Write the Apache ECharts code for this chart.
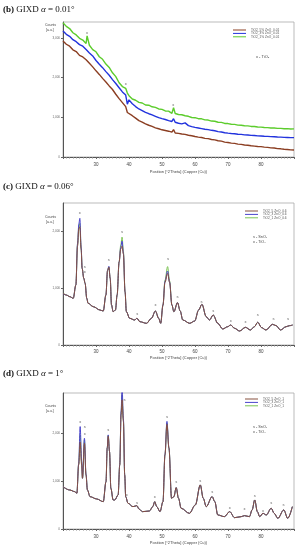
<!DOCTYPE html>
<html><head><meta charset="utf-8">
<script src="https://cdn.jsdelivr.net/npm/echarts@6/dist/echarts.min.js"></script>
<style>html,body{margin:0;padding:0;background:#fff}#c{width:302px;height:550px}</style>
</head><body><div id="c"></div>
<script>
// ---------- Panel (b) GIXD 0.01° ----------
const namesB = ['TiO2_5% ZnO_0.01','TiO2_3% ZnO_0.01','TiO2_1% ZnO_0.01'];
const xB = [20,21,22,23,24,25,26,27,27.3,28,29,30,31,32,33,34,35,36,37,38,39,39.5,40,41,42,43,44,45,46,47,48,49,50,51,52,53,53.5,54,55,56,57,58,59,60,61,62,63,64,65,66,67,68,69,70,71,72,73,74,75,76,77,78,79,80,81,82,83,84,85,86,87,88,89,90];
const bRed = [2920,2840,2790,2700,2655,2560,2520,2450,2435,2360,2270,2170,2080,1980,1890,1790,1700,1580,1470,1370,1270,1120,1150,1040,980,915,880,835,800,770,735,712,685,668,650,625,690,605,595,578,570,548,535,515,500,490,470,462,440,430,410,400,375,365,350,342,325,318,302,296,282,275,265,262,250,242,230,226,212,206,196,190,180,178];
const bBlue = [3175,3090,3040,2955,2905,2830,2790,2705,2690,2620,2545,2430,2335,2250,2150,2060,1950,1850,1745,1640,1560,1330,1440,1340,1270,1210,1170,1125,1090,1060,1025,990,965,945,915,895,965,875,850,835,860,790,765,745,730,715,700,690,672,660,640,630,612,600,592,585,574,570,558,555,545,542,533,530,524,520,512,510,502,500,494,492,487,488];
const bGreen = [3380,3290,3235,3130,3075,2990,2945,2860,3050,2815,2705,2650,2525,2460,2340,2255,2120,2025,1870,1775,1730,1610,1545,1460,1430,1375,1360,1310,1305,1265,1250,1210,1200,1160,1155,1100,1240,1095,1070,1065,1040,1025,995,990,965,962,935,930,905,900,875,872,845,842,825,822,804,800,786,785,770,768,755,752,742,741,732,731,722,721,713,714,706,708];
const mBx = [27.3,39,53.4];
const mBy = [3130,1850,1320];
const mBt = ['x','x','x'];

// ---------- Panel (c) GIXD 0.06° ----------
const namesC = ['TiO2_5 ZnO_0.6','TiO2_3 ZnO_0.6','TiO2_1 ZnO_0.6'];
const xC = [20,21,22.1,23.1,23.9,24.4,24.8,25.1,25.5,25.8,26.3,26.7,27.2,27.6,29.2,31.2,32.2,33,33.5,33.9,34.3,34.7,35.2,35.9,36.4,37,37.5,37.9,38.3,38.8,39.2,40.2,41.7,42.4,43.3,45.3,46.8,48,49,49.6,50.3,50.9,51.7,52.3,53,53.6,54.7,55.5,56.3,58.4,59.9,61.1,62.1,63.4,64.4,65.5,66.9,68.4,69.9,70.8,72,73.5,75.3,76.8,78,79,80.2,81.5,83.5,84.6,85.9,87.6,88.6,89.6];
const cRed = [910,880,850,822,1056,1740,2050,2082,1680,1350,1174,1086,822,734,674,616,598,880,1310,1370,1174,704,586,616,880,1460,1690,1740,1600,938,586,470,440,470,410,382,470,598,470,382,704,1100,1262,1100,704,586,745,600,440,382,422,616,716,498,440,528,382,282,322,352,294,246,311,264,322,400,305,264,364,340,264,322,340,352];
const cBlue = [905,880,850,822,1056,1780,2130,2230,1720,1350,1174,1086,822,734,674,616,598,880,1315,1385,1174,704,586,616,880,1460,1720,1830,1620,938,586,470,440,470,410,382,470,598,470,382,704,1120,1302,1110,704,586,745,600,440,382,422,616,716,498,440,528,382,282,322,352,294,246,311,264,322,400,305,264,364,340,264,322,340,352];
const cGreen = [915,880,850,822,1056,1760,2080,2140,1700,1350,1174,1086,822,734,674,616,598,880,1310,1375,1174,704,586,616,880,1460,1760,1900,1650,938,586,470,440,470,410,382,470,598,470,382,704,1140,1380,1130,704,586,745,600,440,382,422,616,716,498,440,528,382,282,322,352,294,246,311,264,322,400,305,264,364,340,264,322,340,352];
const mCx = [25.1,26.6,26.6,33.9,37.9,42.5,48,51.8,54.7,62,65.5,70.8,75.3,79,83.8,88.2];
const mCy = [2330,1380,1280,1496,2000,546,704,1508,845,762,593,428,410,522,458,452];
const mCt = ['x','s','x','s','s','s','x','s','s','s','s','x','x','s','s','s'];

// ---------- Panel (d) GIXD 1° ----------
const namesD = ['TiO2_5 ZnO_1','TiO2_3 ZnO_1','TiO2_1 ZnO_1'];
const xD = [20,22,23.6,24.2,24.75,25.2,25.65,25.9,26.5,26.97,27.4,28.2,30.2,32.2,33.03,33.4,33.7,34.1,34.5,35.2,35.7,36.7,37.2,37.6,37.9,38.3,38.7,39,39.7,41.2,42.4,43,44.1,46.2,47.2,47.8,48.4,49.4,50.3,50.9,51.5,52.1,52.9,53.6,54.3,55,55.8,58.3,60.1,61.6,62.5,63.4,65.2,66,66.9,68.9,70.5,72,74,75,76.5,77.3,78.1,78.9,79.6,80.6,81.6,83.1,84,85.1,86.9,88.1,89.5];
const dRed = [881,812,777,743,1333,1806,1333,1056,1785,1125,812,673,625,569,985,1681,1930,1611,848,604,604,708,1333,2375,2687,2236,1125,673,535,465,486,417,361,375,465,569,465,361,569,1542,2180,1681,639,673,861,639,431,326,500,917,639,465,673,569,292,257,361,236,257,278,257,396,604,361,257,326,292,431,326,222,396,222,465];
const dBlue = [881,812,777,743,1360,2131,1400,1056,1889,1140,812,673,625,569,985,1690,1958,1611,848,604,604,708,1340,2450,2950,2300,1125,673,535,465,486,417,361,375,465,569,465,361,569,1550,2240,1690,639,673,861,639,431,326,500,917,639,465,673,569,292,257,361,236,257,278,257,396,604,361,257,326,292,431,326,222,396,222,465];
const dGreen = [881,812,777,743,1345,1958,1360,1056,1854,1130,812,673,625,569,985,1685,1950,1611,848,604,604,708,1335,2420,2800,2270,1125,673,535,465,486,417,361,375,465,569,465,361,569,1545,2210,1685,639,673,861,639,431,326,500,917,639,465,673,569,292,257,361,236,257,278,257,396,604,361,257,326,292,431,326,222,396,222,465];
const mDx = [25.2,26.6,26.6,33.7,38.6,39.3,42.4,47.8,51.5,54.3,61.6,65.2,70.5,75,78.1,80.6,83.1,86.8];
const mDy = [2222,2118,1979,2062,2687,720,549,673,2340,972,1000,778,444,410,694,382,535,500];
const mDt = ['x','s','x','s','s','x','s','x','s','s','s','s','x','x','s','x','s','s'];

const axisName = 'Position [°2Theta] (Copper (Cu))';

function pairs(xs, ys){ return xs.map((x,i)=>[x, ys[i]]); }
function marks(xs, ys, ts){ return xs.map((x,i)=>[x, ys[i], ts[i]]); }

const grids = [
  {left:63, top:22, width:231, height:135},
  {left:63, top:203, width:231, height:142},
  {left:63, top:393, width:231, height:136}
];
const yMax = [3400, 2500, 2830];
const nameGaps = [13, 11, 12];
const labelMargins = [5, 4, 5];

const xAxes = grids.map((g,i)=>({
  type:'value', gridIndex:i, min:20, max:90, interval:10,
  axisLine:{lineStyle:{color:'#555', width:1}},
  axisTick:{length:2, lineStyle:{color:'#666'}},
  minorTick:{show:true, splitNumber:10, length:1.5, lineStyle:{color:'#888'}},
  splitLine:{show:false},
  axisLabel:{showMinLabel:false, showMaxLabel:false, fontSize:4.5, color:'#444', margin:labelMargins[i], fontFamily:'Liberation Sans'},
  name:axisName, nameLocation:'middle', nameGap:nameGaps[i],
  nameTextStyle:{fontSize:4, color:'#444', fontFamily:'Liberation Sans'}
}));
const yAxes = grids.map((g,i)=>({
  type:'value', gridIndex:i, min:0, max:yMax[i], interval:1000,
  axisLine:{show:true, lineStyle:{color:'#555', width:1}},
  axisTick:{show:true, length:2, lineStyle:{color:'#666'}},
  splitLine:{show:false},
  axisLabel:{showMaxLabel:false, fontSize:3, color:'#666', margin:3, fontFamily:'Liberation Sans'}
}));

function lineSeries(name, xs, ys, idx, color, width, smooth){
  return {type:'line', name:name, xAxisIndex:idx, yAxisIndex:idx, data:pairs(xs,ys),
    showSymbol:false, symbol:'none', smooth:smooth, smoothMonotone:'x',
    lineStyle:{color:color, width:width}, itemStyle:{color:color}, clip:true};
}
function markSeries(xs, ys, ts, idx){
  return {type:'scatter', xAxisIndex:idx, yAxisIndex:idx, data:marks(xs,ys,ts),
    symbolSize:0.1, itemStyle:{color:'rgba(0,0,0,0)'}, silent:true,
    label:{show:true, position:'inside', formatter:p=>p.data[2], fontSize:4, color:'#333', fontFamily:'Liberation Sans'}};
}

const colB = ['#8b3e22','#2233dd','#5ccc2c'];
const colCD = ['#86503f','#4a44cc','#7cc454'];

const series = [
  lineSeries(namesB[0], xB, bRed, 0, colB[0], 1.4, false),
  lineSeries(namesB[1], xB, bBlue, 0, colB[1], 1.4, false),
  lineSeries(namesB[2], xB, bGreen, 0, colB[2], 1.4, false),
  markSeries(mBx, mBy, mBt, 0),
  lineSeries(namesC[2], xC, cGreen, 1, colCD[2], 1, 0.35),
  lineSeries(namesC[1], xC, cBlue, 1, colCD[1], 1, 0.35),
  lineSeries(namesC[0], xC, cRed, 1, colCD[0], 1, 0.35),
  markSeries(mCx, mCy, mCt, 1),
  lineSeries(namesD[2], xD, dGreen, 2, colCD[2], 1, 0.35),
  lineSeries(namesD[1], xD, dBlue, 2, colCD[1], 1, 0.35),
  lineSeries(namesD[0], xD, dRed, 2, colCD[0], 1, 0.35),
  markSeries(mDx, mDy, mDt, 2)
];

function legendAt(names, left, top){
  return {data:names, left:left, top:top, orient:'vertical', itemWidth:13, itemHeight:1, itemGap:0.4,
    icon:'rect', padding:0, selectedMode:false,
    textStyle:{fontSize:3.2, color:'#555', padding:0, fontFamily:'Liberation Sans'}};
}

const titleRich = {
  b:{fontWeight:'bold', fontSize:9, fontFamily:'Liberation Serif', fill:'#111', color:'#111'},
  n:{fontSize:9, fontFamily:'Liberation Serif', fill:'#111', color:'#111'},
  i:{fontStyle:'italic', fontSize:9, fontFamily:'Liberation Serif', fill:'#111', color:'#111'}
};
function titleText(letter, ang, y){
  return {type:'text', left:3, top:y-5, style:{text:'{b|('+letter+')}{n| GIXD }{i|α}{n| = '+ang+'°}', rich:titleRich, fontSize:9, fontFamily:'Liberation Serif', fill:'#111'}};
}
function smallText(txt, x, y, size){
  return {type:'text', x:x, y:y, style:{text:txt, fontSize:size||3.5, fontFamily:'Liberation Sans', fill:'#444', verticalAlign:'middle'}};
}

const graphic = [
  titleText('b','0.01',10), titleText('c','0.06',187), titleText('d','1',374),
  smallText('Counts',45,25), smallText('[a.u.]',46,30),
  smallText('Counts',45,217), smallText('[a.u.]',46,222),
  smallText('Counts',45,406), smallText('[a.u.]',46,411),
  smallText('x - TiO₂',256,57,4),
  smallText('s - SnO₂',253,237,3.8), smallText('x - TiO₂',253,241.5,3.8),
  smallText('s - SnO₂',253,427,3.8), smallText('x - TiO₂',253,431.5,3.8)
];

const chart = echarts.init(document.getElementById('c'), null, {renderer:'canvas'});
chart.setOption({
  animation:false,
  backgroundColor:'#fff',
  grid: grids.map(g=>Object.assign({show:true, borderColor:'#aaa', borderWidth:0.8, backgroundColor:'transparent'}, g)),
  xAxis: xAxes,
  yAxis: yAxes,
  legend:[ legendAt(namesB,233,28.5), legendAt(namesC,245,209.5), legendAt(namesD,245,397.5) ],
  series: series,
  graphic: graphic
});
</script>
</body></html>
